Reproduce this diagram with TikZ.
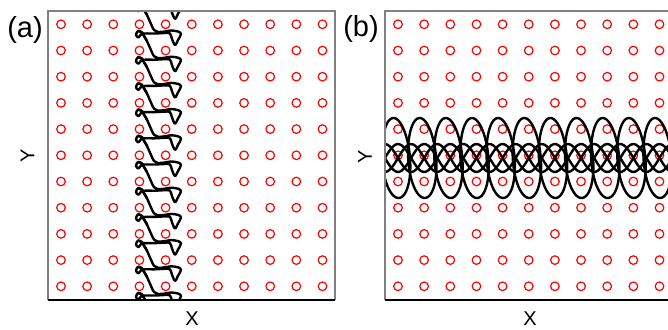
\documentclass[tikz,border=0pt]{standalone}
\usepackage{fontspec}
\setmainfont{Liberation Sans}
\begin{document}
\begin{tikzpicture}[x=1pt,y=-1pt]
  % styles for scatterers, orbits and frames
  \tikzstyle{scatterer}=[draw=red,line width=1.2pt]
  \tikzstyle{orbit}=[draw=black,line width=2.4pt,line join=round,line cap=round]
  \tikzstyle{frameG}=[draw=gray,line width=1.6pt]
  \tikzstyle{frameK}=[draw=black,line width=1.3pt]
  \tikzstyle{tag}=[inner sep=0pt,font=\fontsize{29}{34}\selectfont]
  \tikzstyle{axlabel}=[inner sep=0pt,font=\fontsize{20}{24}\selectfont]
  \useasboundingbox (0,0) rectangle (668,329);

  % panel (a): lattice
  \foreach \i in {0,...,10}
    \foreach \j in {0,...,10}
      \draw[scatterer] (61+26.15*\i,24.3+26.2*\j) circle (4.3);
  % vertical drifting orbit
  \begin{scope}
    \clip (48,11) rectangle (335,300);
    \foreach \k in {-1,...,11}
      \draw[orbit,shift={(141,35+26.2*\k)}] plot[smooth,tension=0.55] coordinates {(-3,-30.2) (1,-28.7) (3,-25.2) (6,-20) (10,-11) (13,-5) (17,-3) (24,-3.5) (30,-4.5) (37,-3.5) (40,-1) (37,5) (34,10) (31,4) (29,-1.5) (24,-2) (14,-1.5) (4,-1.5) (0,-0.5) (-2.5,2.5) (-5,0) (-3,-4) (1,-2.5) (3,1) (6,6)};
  \end{scope}
  \draw[frameG] (48,300) -- (48,11) -- (335,11) -- (335,300);
  \draw[frameK] (48,300) -- (335,300);

  % panel (b): lattice
  \foreach \i in {0,...,10}
    \foreach \j in {0,...,10}
      \draw[scatterer] (398+26.15*\i,24.3+26.2*\j) circle (4.3);
  % horizontal drifting orbit
  \begin{scope}
    \clip (385,11) rectangle (672,300);
    \foreach \i in {0,...,10}
      \draw[orbit,shift={(396+26.15*\i,158)}] plot[domain=0:360,samples=73,smooth] ({14*sin(\x)*(1-0.04*cos(\x))-2.5*cos(\x)},{-40*cos(\x)}) -- cycle;
    \foreach \ph in {0,90,180,270}
      \draw[orbit] plot[domain=-13:274,samples=120] ({398+\x},{158+14*sin(6.883*\x+\ph)});
  \end{scope}
  \draw[frameG] (385,300) -- (385,11) -- (672,11) -- (672,300);
  \draw[frameK] (385,300) -- (672,300);

  % labels
  \node[tag] (taga) at (25,30) {(a)};
  \node[tag] (tagb) at (361,29) {(b)};
  \node[axlabel] (xa) at (192,319) {X};
  \node[axlabel] (xb) at (530,319) {X};
  \node[axlabel,rotate=90] (ya) at (27.5,156) {Y};
  \node[axlabel,rotate=90] (yb) at (365,157) {Y};
\end{tikzpicture}
\end{document}
